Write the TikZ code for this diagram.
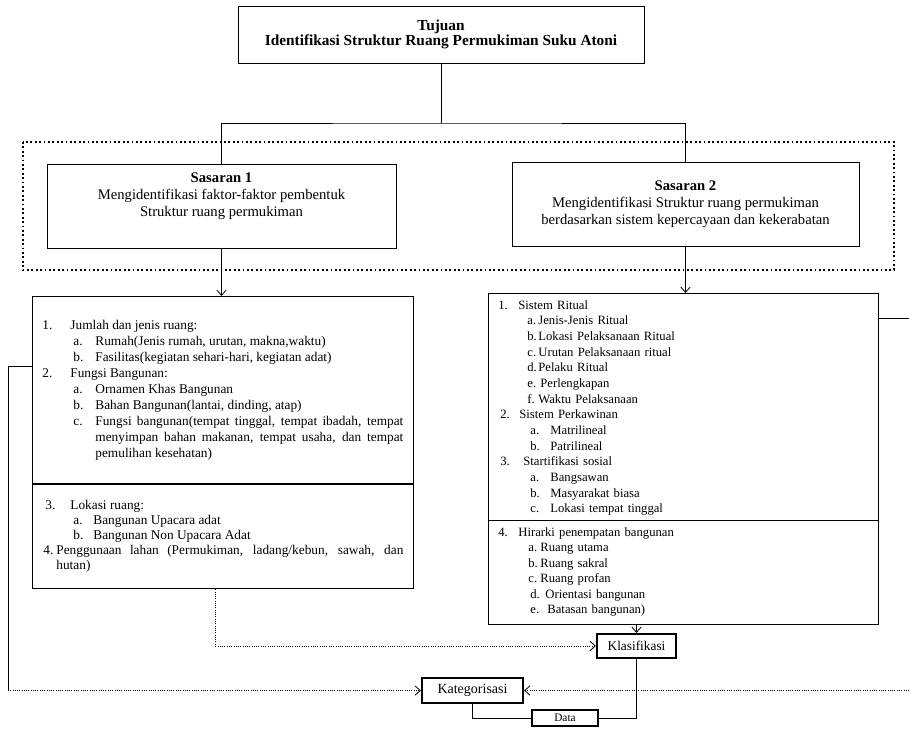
\documentclass[tikz,border=0pt]{standalone}
\usepackage{fontspec}
\setmainfont{Liberation Serif}
\usetikzlibrary{arrows.meta}

% list entry: label offset, text offset, label
\newcommand{\itm}[3]{\par\leftskip=#2\relax\noindent
  \hspace*{\dimexpr#1-#2\relax}\makebox[\dimexpr#2-#1\relax][l]{#3}\ignorespaces}

\tikzset{
  goal/.style={draw, line width=0.6pt, align=center, inner sep=2pt},
  listbox/.style={draw, line width=0.6pt, anchor=north west, inner xsep=7.5pt, inner ysep=0pt},
  stage/.style={draw, line width=1.6pt, inner sep=0pt, align=center},
  flow/.style={line width=0.6pt, -{Straight Barb[length=4pt, width=7pt]}},
  dots/.style={line width=0.7pt, densely dotted}
}

\begin{document}
\begin{tikzpicture}[x=0.75pt, y=-0.75pt, line width=0.6pt]
\useasboundingbox (0,0) rectangle (909,728);

% tujuan dan sasaran
\node[goal, minimum width=304.5pt, minimum height=42.75pt, font=\fontsize{11.5}{11.75}\selectfont\bfseries] (tujuan) at (441,34.5)
  {Tujuan\\Identifikasi Struktur Ruang Permukiman Suku Atoni};
\node[goal, minimum width=261.75pt, minimum height=63pt, font=\fontsize{11}{12.75}\selectfont] (s1) at (221.5,206)
  {\textbf{Sasaran 1}\\Mengidentifikasi faktor-faktor pembentuk\\Struktur ruang permukiman\rule[-17pt]{0pt}{0pt}};
\node[goal, minimum width=260.25pt, minimum height=63pt, font=\fontsize{11}{12.75}\selectfont] (s2) at (685.5,204)
  {\textbf{Sasaran 2}\\Mengidentifikasi Struktur ruang permukiman\\berdasarkan sistem kepercayaan dan kekerabatan};
\draw[line width=1.3pt, dotted] (23,142) rectangle (894,270);

% variabel sasaran 1
\node[listbox, text width=270.75pt, align=justify, font=\fontsize{10}{12}\selectfont] (lb1) at (32,296) {%
  \itm{0pt}{21pt}{1.}\rule{0pt}{24pt}Jumlah dan jenis ruang:
  \itm{23.25pt}{39.75pt}{a.}Rumah(Jenis rumah, urutan, makna,waktu)
  \itm{23.25pt}{39.75pt}{b.}Fasilitas(kegiatan sehari-hari, kegiatan adat)
  \itm{0pt}{21pt}{2.}Fungsi Bangunan:
  \itm{23.25pt}{39.75pt}{a.}Ornamen Khas Bangunan
  \itm{23.25pt}{39.75pt}{b.}Bahan Bangunan(lantai, dinding, atap)
  \itm{23.25pt}{39.75pt}{c.}Fungsi bangunan(tempat tinggal, tempat ibadah, tempat\linebreak
    menyimpan bahan makanan, tempat usaha, dan tempat\linebreak
    pemulihan kesehatan)\rule[-19.5pt]{0pt}{0pt}\par};
\node[listbox, text width=270.75pt, align=justify, font=\fontsize{10}{11.25}\selectfont] (lb2) at (lb1.south west) {%
  \itm{2.25pt}{21pt}{3.}\rule{0pt}{18pt}Lokasi ruang:
  \itm{23.25pt}{38.25pt}{a.}Bangunan Upacara adat
  \itm{23.25pt}{38.25pt}{b.}Bangunan Non Upacara Adat
  \itm{0.75pt}{10.5pt}{4.}Penggunaan lahan (Permukiman, ladang/kebun, sawah, dan\linebreak
    hutan)\rule[-14.25pt]{0pt}{0pt}\par};

% variabel sasaran 2
\node[listbox, text width=277.5pt, align=left, font=\fontsize{9.5}{11.75}\selectfont] (rb1) at (488,293) {%
  \itm{0pt}{15pt}{1.}\rule{0pt}{11.25pt}Sistem Ritual
  \itm{21.75pt}{30pt}{a.}Jenis-Jenis Ritual
  \itm{21.75pt}{30pt}{b.}Lokasi Pelaksanaan Ritual
  \itm{21.75pt}{30pt}{c.}Urutan Pelaksanaan ritual
  \itm{21.75pt}{30pt}{d.}Pelaku Ritual
  \itm{21.75pt}{31.5pt}{e.}Perlengkapan
  \itm{21.75pt}{30pt}{f.}Waktu Pelaksanaan
  \itm{1.5pt}{15.75pt}{2.}Sistem Perkawinan
  \itm{24pt}{39pt}{a.}Matrilineal
  \itm{24pt}{39pt}{b.}Patrilineal
  \itm{1.5pt}{18.75pt}{3.}Startifikasi sosial
  \itm{24pt}{39pt}{a.}Bangsawan
  \itm{24pt}{39pt}{b.}Masyarakat biasa
  \itm{24pt}{39pt}{c.}Lokasi tempat tinggal\rule[-5.5pt]{0pt}{0pt}\par};
\node[listbox, text width=277.5pt, align=left, font=\fontsize{9.5}{11.625}\selectfont] (rb2) at (rb1.south west) {%
  \itm{0pt}{15pt}{4.}\rule{0pt}{8.25pt}Hirarki penempatan bangunan
  \itm{22.5pt}{31.5pt}{a.}Ruang utama
  \itm{22.5pt}{31.5pt}{b.}Ruang sakral
  \itm{22.5pt}{31.5pt}{c.}Ruang profan
  \itm{24pt}{35.25pt}{d.}Orientasi bangunan
  \itm{24pt}{36.75pt}{e.}Batasan bangunan)\rule[-7.875pt]{0pt}{0pt}\par};

% tahap analisis
\node[stage, minimum width=59.25pt, minimum height=18pt, font=\fontsize{10}{12}\selectfont] (klas) at (636.5,646) {Klasifikasi};
\node[stage, minimum width=75.75pt, minimum height=18.75pt, font=\fontsize{10.5}{12}\selectfont] (kat) at (472.5,690.5) {Kategorisasi};
\node[stage, minimum width=49.5pt, minimum height=12pt, font=\fontsize{8.5}{10}\selectfont] (data) at (565,718) {Data};

% garis penghubung
\coordinate (split) at (441,123);
\draw (tujuan.south) -- (split);
\draw (s1.north) |- (split) -| (s2.north);
\draw[flow] (s1.south) -- (s1.south |- lb1.north);
\draw[flow] (s2.south) -- (s2.south |- rb1.north);

\coordinate (lcorner) at (8,366);
\coordinate (lbend) at (8,690.5);
\draw (lcorner -| lb1.west) -- (lcorner) -- (lbend);
\draw[dots, flow] (lbend) -- (kat.west);

\coordinate (rcorner) at (909,318);
\coordinate (rbend) at (909,690.5);
\draw (rcorner -| rb1.east) -- (rcorner);
\draw[dots, flow] (rbend) -- (kat.east);

\draw[dots, flow] ([xshift=-5.6pt]lb2.south) |- (klas.west);
\draw[flow] (klas.north |- rb2.south) -- (klas.north);
\draw (klas.south) |- (data.east);
\draw (kat.south) |- (data.west);
\end{tikzpicture}
\end{document}
